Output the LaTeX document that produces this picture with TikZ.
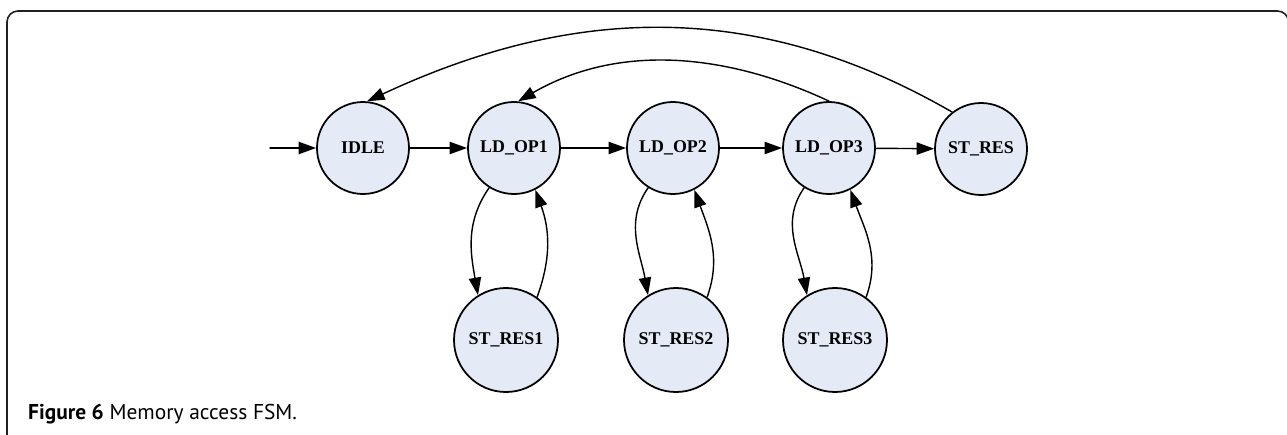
\documentclass[tikz,border=0pt]{standalone}
\usepackage{fontspec}
\setmainfont{Liberation Serif}
\newfontfamily\capfont{PT Sans}
\usetikzlibrary{arrows.meta}
\definecolor{statefill}{HTML}{E4EBF6}
\definecolor{framegray}{HTML}{231F20}

\begin{document}
\begin{tikzpicture}[line cap=round,line join=round,>={Triangle[length=10pt,width=7pt]},x=1cm,y=1cm,
	state/.style={circle,draw=black,fill=statefill,line width=1pt,minimum size=1.84cm,inner sep=0pt,font=\fontsize{10.2}{12}\selectfont\bfseries},
	lowstate/.style={state,minimum size=2.08cm},
	trans/.style={->,line width=0.8pt}]
	\useasboundingbox (0,0) rectangle (25.74,8.68);
	\draw[color=framegray,line width=0.9pt,rounded corners=0.22cm] (0.14,-0.1) -- (0.14,8.46) -- (25.77,8.46) -- (25.77,-0.1);
	\node[state] (IDLE) at (7.26,5.72) {IDLE};
	\node[state] (LD1) at (10.28,5.72) {LD\_OP1};
	\node[state] (LD2) at (13.46,5.72) {LD\_OP2};
	\node[state] (LD3) at (16.58,5.72) {LD\_OP3};
	\node[state] (ST) at (19.62,5.70) {ST\_RES};
	\node[lowstate] (SR1) at (10.12,1.88) {ST\_RES1};
	\node[lowstate] (SR2) at (13.52,1.88) {ST\_RES2};
	\node[lowstate] (SR3) at (16.70,1.88) {ST\_RES3};
	\coordinate (start) at (5.40,5.72);
	\draw[trans] (start) -- (IDLE);
	\draw[trans] (IDLE) -- (LD1);
	\draw[trans] (LD1) -- (LD2);
	\draw[trans] (LD2) -- (LD3);
	\draw[trans] (LD3) -- (ST);
	\foreach \i in {1,2,3} {
		\draw[trans] (LD\i.238) to[out=235,in=100] (SR\i.122);
		\draw[trans] (SR\i.54) to[out=70,in=-70] (LD\i.297);
	}
	\draw[trans] (LD3.north) to[out=155,in=30,looseness=0.95] (LD1.85);
	\draw[trans] (ST.128) to[out=150,in=25,looseness=0.99] (IDLE.85);
	\node[anchor=base west,font=\capfont\fontsize{12.2}{14}\selectfont] (caption) at (0.44,0.30) {\textbf{Figure 6} Memory access FSM.};
\end{tikzpicture}
\end{document}
